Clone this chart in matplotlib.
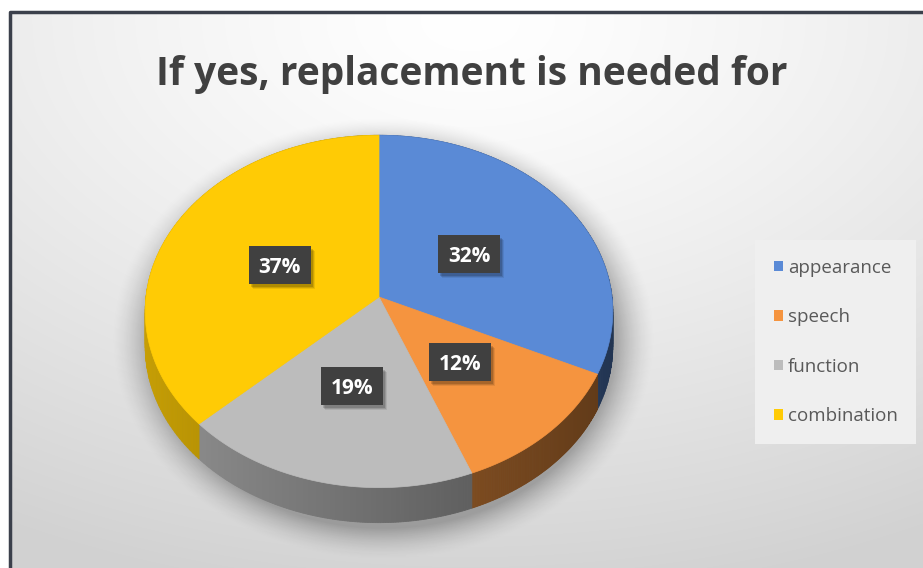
import numpy as np
import matplotlib
matplotlib.use("Agg")
import matplotlib.pyplot as plt
from matplotlib.patches import Polygon, Patch, Rectangle

# Data
categories = ["appearance", "speech", "function", "combination"]
shares = [32, 12, 19, 37]
colors = ["#5a8ad6", "#f5943f", "#bcbcbc", "#ffcb05"]
title = "If yes, replacement is needed for"

W, H = 923, 568
fig = plt.figure(figsize=(W / 100, H / 100), dpi=100)
ax = fig.add_axes([0, 0, 1, 1])
ax.set_xlim(0, W)
ax.set_ylim(H, 0)
ax.axis("off")

# background: white outside, radial gradient inside frame
yy, xx = np.mgrid[0:H, 0:W]
r = np.sqrt(((xx - 470) / 900.0) ** 2 + ((yy - 20) / 560.0) ** 2)
g = np.clip(1.0 - 0.17 * r ** 1.3, 0.82, 1.0)
bg = np.dstack([g, g, g])
bg[:11, :, :] = 1.0
bg[:, :9, :] = 1.0
ax.imshow(bg, extent=(0, W, H, 0), zorder=0, interpolation="bilinear")
ax.plot([9.5, 9.5, W], [H, 11.5, 11.5], color="#3b404b", lw=2.5, zorder=1,
        solid_capstyle="butt")

# 3D pie geometry (perspective ellipse)
cx, cy = 379, 297
R, A, k = 233, 175, 0.082
depth = 35


def proj(phi, rad=1.0):
    s = 1.0 / (1.0 + k * np.cos(phi))
    return cx + R * rad * np.sin(phi) * s, cy - A * rad * np.cos(phi) * s


# soft shadow under the pie
sr = np.sqrt(((xx - 383) / 248.0) ** 2 + ((yy - 338) / 202.0) ** 2)
sa = 0.28 * np.clip((1.10 - sr) / 0.16, 0, 1) ** 1.6
shadow = np.zeros((H, W, 4))
shadow[..., 3] = sa
ax.imshow(shadow, extent=(0, W, H, 0), zorder=2, interpolation="bilinear")

fr = np.array(shares) / np.sum(shares)
bounds = np.concatenate([[0], np.cumsum(fr)]) * 2 * np.pi

# side walls with shading
for i, c in enumerate(colors):
    rgb = np.array(matplotlib.colors.to_rgb(c))
    phis = np.linspace(bounds[i], bounds[i + 1], 120)
    for p0, p1 in zip(phis[:-1], phis[1:]):
        x0, y0 = proj(p0)
        x1, y1 = proj(p1)
        f = 0.58 - 0.2 * np.sin(0.5 * (p0 + p1))
        col = np.clip(rgb * f, 0, 1)
        ax.add_patch(Polygon([(x0, y0), (x1, y1), (x1, y1 + depth), (x0, y0 + depth)],
                             closed=True, fc=col, ec=col, lw=0.6, zorder=3))

# top faces
for i, c in enumerate(colors):
    phis = np.linspace(bounds[i], bounds[i + 1], 200)
    xs, ys = proj(phis)
    pts = np.column_stack([np.r_[cx, xs], np.r_[cy, ys]])
    ax.add_patch(Polygon(pts, closed=True, fc=c, ec=c, lw=0.5, zorder=4))

# data labels
bw, bh = 62, 38
for i, v in enumerate(shares):
    mid = 0.5 * (bounds[i] + bounds[i + 1])
    lx, ly = proj(mid, 0.48)
    for off, al in [(5, 0.08), (4, 0.12), (3, 0.15)]:
        ax.add_patch(Rectangle((lx - bw / 2 + off - 1, ly - bh / 2 + off), bw, bh,
                               fc="black", ec="none", alpha=al, zorder=5))
    ax.add_patch(Rectangle((lx - bw / 2, ly - bh / 2), bw, bh, fc="#404040",
                           ec="none", zorder=6))
    ax.text(lx, ly + 8, f"{v}%", ha="center", va="baseline", fontsize=15,
            fontweight="bold", family="Open Sans", color="white", zorder=7)

# title
fig.text(472 / W, 1 - 85 / H, title, ha="center", va="baseline", fontsize=28,
         fontweight="bold", family="Open Sans", color="#404040")

# legend
handles = [Patch(fc=c, ec="none") for c in colors]
leg = fig.legend(handles, categories, loc="upper left",
                 bbox_to_anchor=(755 / W, 1 - 240 / H), frameon=True,
                 fancybox=False, facecolor="#efefef", edgecolor="none", framealpha=1,
                 handlelength=0.5, handleheight=0.5, handletextpad=0.25,
                 labelspacing=1.68, borderpad=1.0, borderaxespad=0,
                 prop=dict(family="Open Sans", size=13.5))
for t in leg.get_texts():
    t.set_color("#595959")

fig.savefig("out.png", dpi=100)
